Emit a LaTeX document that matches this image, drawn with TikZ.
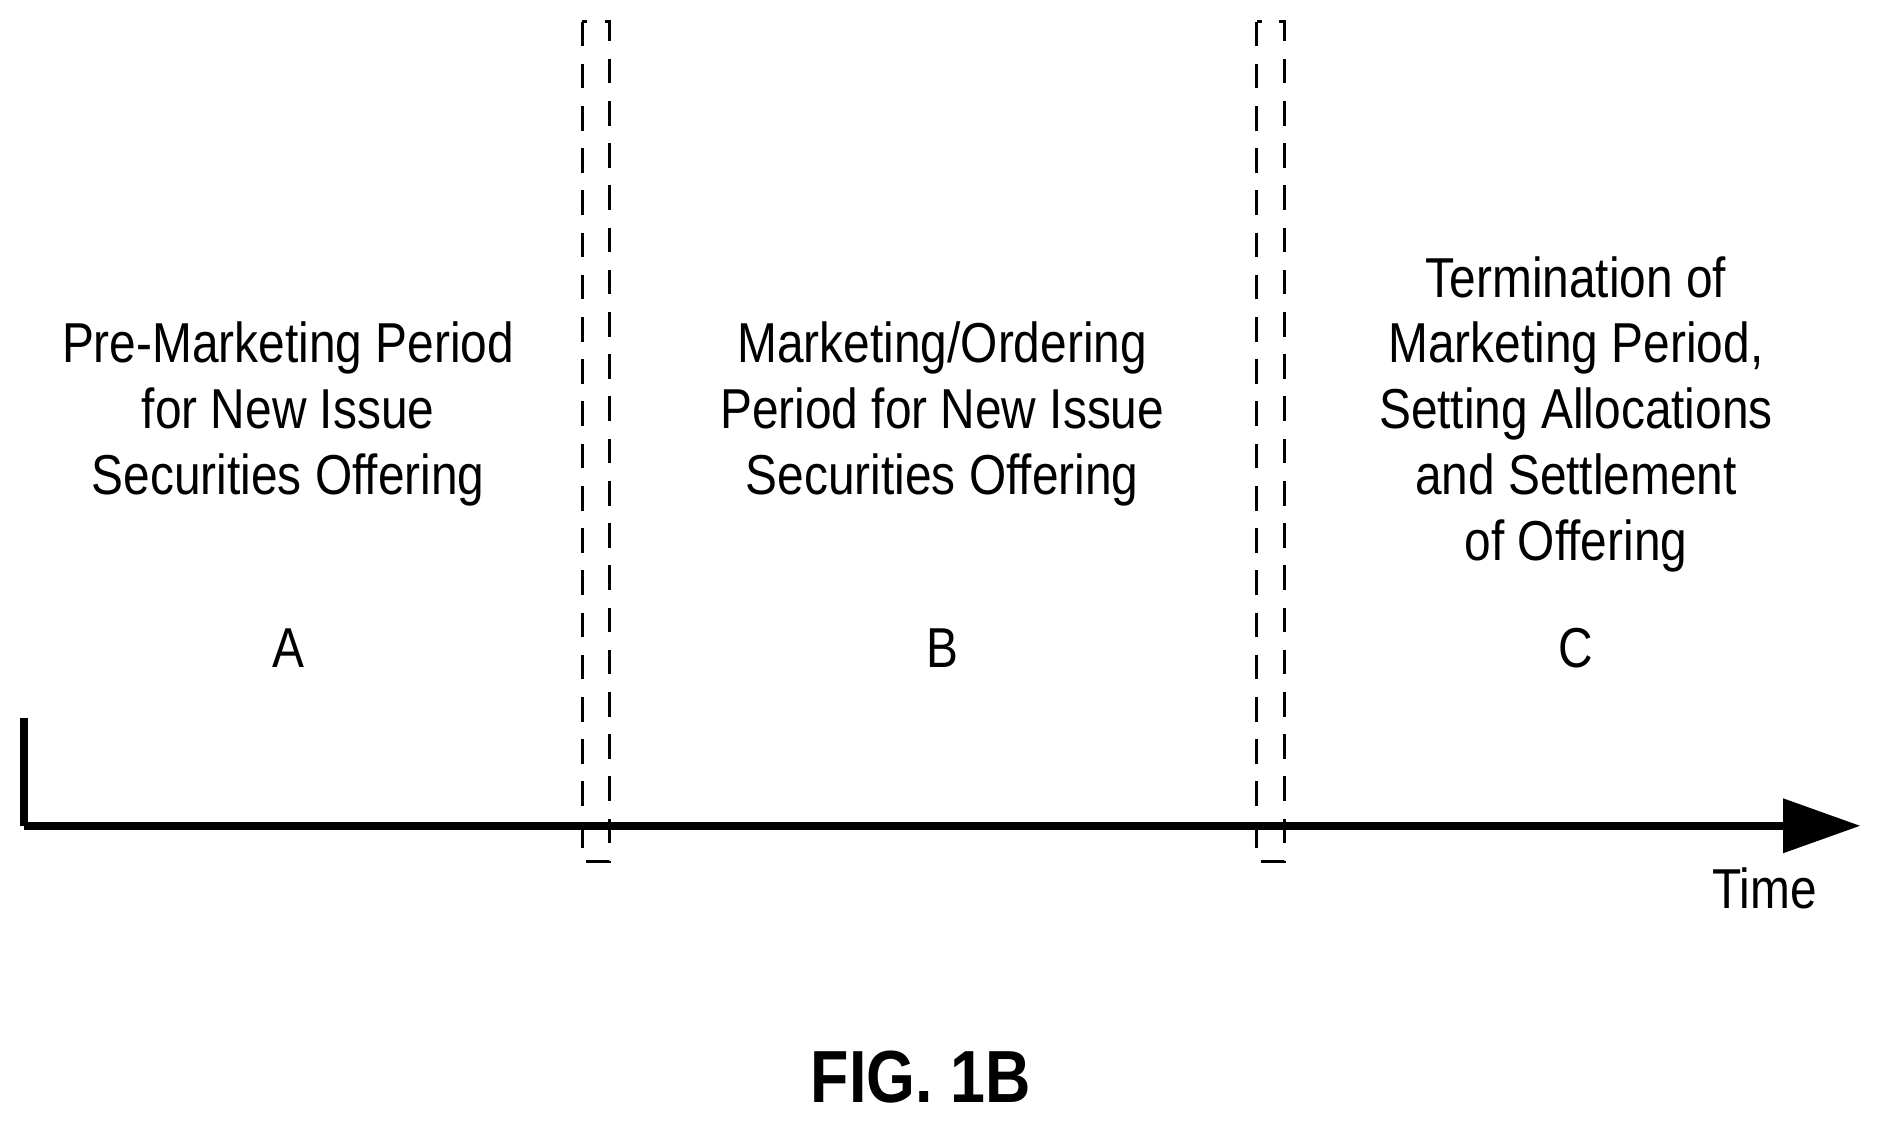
\documentclass[tikz,border=0pt]{standalone}
\usepackage{fontspec}
\setmainfont{Liberation Sans}[FakeStretch=0.85]
\usetikzlibrary{arrows.meta}
\begin{document}
\begin{tikzpicture}[x=0.012cm,y=-0.012cm,
  lbl/.style={align=center,font=\fontsize{16}{18.7}\selectfont,inner sep=0},
  sep/.style={draw,dashed,line width=0.9pt,dash pattern=on 7pt off 5pt},
  axis/.style={line width=2.2pt}]
\useasboundingbox (0,0) rectangle (1568,935);
\coordinate (o) at (20,688);
\coordinate (top) at (20,598);
\coordinate (end) at (1550,688);
\draw[axis] (top) -- (o);
\draw[axis,-{Triangle[length=22pt,width=15pt]}] (o) -- (end);
\draw[sep] (485,18) rectangle (508,718);
\draw[sep] (1047,18) rectangle (1070,718);
\node[lbl] (a) at (240,345) {Pre-Marketing Period\\for New Issue\\Securities Offering};
\node[lbl] (b) at (785,345) {Marketing/Ordering\\Period for New Issue\\Securities Offering};
\node[lbl] (c) at (1313,345) {Termination of\\Marketing Period,\\Setting Allocations\\and Settlement\\of Offering};
\node[lbl] (la) at (240,540) {A};
\node[lbl] (lb) at (785,540) {B};
\node[lbl] (lc) at (1313,540) {C};
\node[lbl] (t) at (1470,740) {Time};
\node[lbl,font=\fontsize{21}{24}\selectfont\bfseries] (f) at (767,897) {FIG. 1B};
\end{tikzpicture}
\end{document}
